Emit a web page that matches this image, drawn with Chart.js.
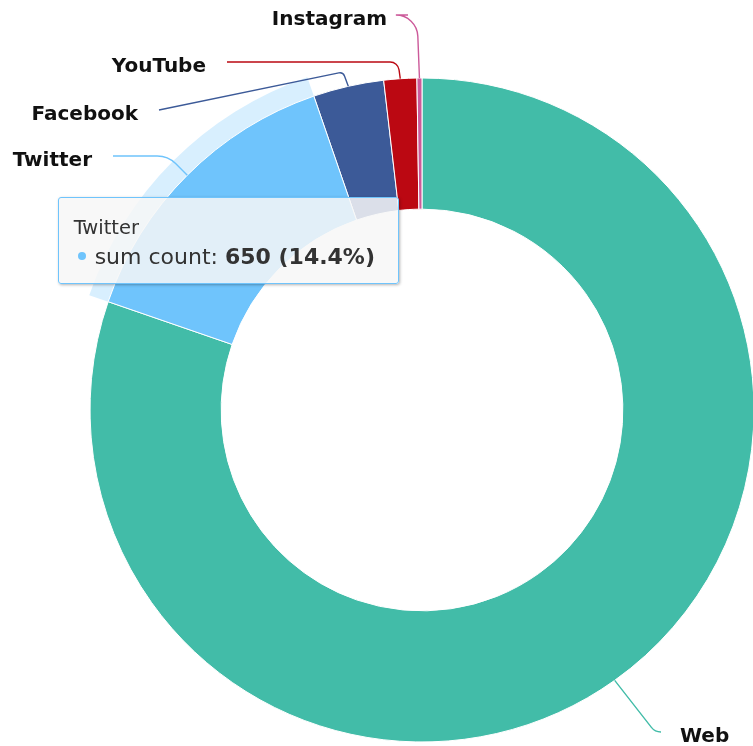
<!DOCTYPE html>
<html>
<head>
<meta charset="utf-8">
<script src="https://cdn.jsdelivr.net/npm/chart.js@4/dist/chart.umd.min.js"></script>
<style>
  html, body { margin: 0; padding: 0; background: #fff; overflow: hidden; }
  #wrap { position: relative; width: 770px; height: 746px; }
  #tip {
    position: absolute;
    pointer-events: none;
    background: rgba(247, 247, 247, 0.85);
    border: 1px solid #6fc4fc;
    border-radius: 3px;
    box-shadow: 1px 1px 3px rgba(0, 0, 0, 0.3);
    padding: 17px 23px 10px 15px;
    font-family: "DejaVu Sans", sans-serif;
    color: #333;
    white-space: nowrap;
    opacity: 0;
  }
  #tip .t { font-size: 19.5px; line-height: 26px; }
  #tip .b { font-size: 22px; line-height: 32px; }
  #tip .dot { display: inline-block; width: 8px; height: 8px; border-radius: 50%; margin: 0 9px 4px 4px; vertical-align: middle; }
</style>
</head>
<body>
<div id="wrap">
  <canvas id="donut"></canvas>
  <div id="tip"></div>
</div>
<script>
// data
const categories = ['Web', 'Twitter', 'Facebook', 'YouTube', 'Instagram'];
const sumCount = [3617, 650, 155, 72, 11];
const sliceColors = ['#42bca8', '#6fc4fc', '#3c5a98', '#bb0812', '#cc5a9a'];
const hoveredIndex = 1;

// label placement (end of connector + where it bends)
const connectors = [
    { bend: [655, 732], end: [661, 732], r: 12, align: 'left' },
    { bend: [168, 156], end: [113, 156], r: 26, align: 'right' },
    { bend: [343, 72], end: [159, 110], r: 5, align: 'right' },
    { bend: [398, 62], end: [227, 62], r: 9, align: 'right' },
    { bend: [417, 15], end: [408, 15], r: 22, align: 'right' }
];

const total = sumCount.reduce((a, b) => a + b, 0);

const halo = {
    id: 'halo',
    beforeDatasetsDraw(chart) {
        const active = chart.getActiveElements();
        if (!active.length) return;
        const arc = active[0].element;
        const ctx = chart.ctx;
        ctx.save();
        ctx.beginPath();
        ctx.arc(arc.x, arc.y, arc.outerRadius + 20, arc.startAngle, arc.endAngle);
        ctx.arc(arc.x, arc.y, arc.outerRadius, arc.endAngle, arc.startAngle, true);
        ctx.closePath();
        ctx.fillStyle = 'rgba(111,196,252,0.27)';
        ctx.fill();
        ctx.restore();
    }
};

const sliceLabels = {
    id: 'sliceLabels',
    afterDatasetsDraw(chart) {
        const ctx = chart.ctx;
        const arcs = chart.getDatasetMeta(0).data;
        arcs.forEach((arc, i) => {
            const c = connectors[i];
            const mid = (arc.startAngle + arc.endAngle) / 2;
            const x0 = arc.x + Math.cos(mid) * arc.outerRadius;
            const y0 = arc.y + Math.sin(mid) * arc.outerRadius;
            ctx.save();
            ctx.strokeStyle = sliceColors[i];
            ctx.lineWidth = 1.4;
            ctx.beginPath();
            ctx.moveTo(x0, y0);
            ctx.arcTo(c.bend[0], c.bend[1], c.end[0], c.end[1], c.r);
            ctx.lineTo(c.end[0], c.end[1]);
            ctx.stroke();

            ctx.font = 'bold 20px "DejaVu Sans", sans-serif';
            ctx.fillStyle = '#111';
            ctx.textBaseline = 'middle';
            ctx.textAlign = c.align;
            const tx = c.align === 'left' ? c.end[0] + 19 : c.end[0] - 21;
            ctx.fillText(categories[i], tx, c.end[1] + 5);
            ctx.restore();
        });
    }
};

function htmlTooltip({ chart, tooltip }) {
    const el = document.getElementById('tip');
    if (tooltip.opacity === 0 || !tooltip.dataPoints || !tooltip.dataPoints.length) {
        el.style.opacity = 0;
        return;
    }
    const dp = tooltip.dataPoints[0];
    const v = sumCount[dp.dataIndex];
    const pct = (v / total * 100).toFixed(1);
    el.innerHTML = '<div class="t">' + categories[dp.dataIndex] + '</div>' +
        '<div class="b"><span class="dot" style="background:' + sliceColors[dp.dataIndex] + '"></span>' +
        'sum count: <b>' + v + ' (' + pct + '%)</b></div>';
    el.style.left = (tooltip.caretX - 176) + 'px';
    el.style.top = (tooltip.caretY - 25) + 'px';
    el.style.opacity = 1;
}

const chart = new Chart(document.getElementById('donut'), {
    type: 'doughnut',
    data: {
        labels: categories,
        datasets: [{
            data: sumCount,
            backgroundColor: sliceColors,
            hoverBackgroundColor: sliceColors,
            borderColor: '#fff',
            hoverBorderColor: '#fff',
            borderWidth: 1,
            hoverOffset: 0
        }]
    },
    options: {
        responsive: true,
        maintainAspectRatio: false,
        animation: false,
        events: [],
        cutout: '60.5%',
        layout: {
            padding: { left: 89.5, right: 15.5, top: 77.5, bottom: 3.5 }
        },
        plugins: {
            legend: { display: false },
            tooltip: { enabled: false, external: htmlTooltip }
        }
    },
    plugins: [halo, sliceLabels]
});

const active = [{ datasetIndex: 0, index: hoveredIndex }];
chart.setActiveElements(active);
chart.tooltip.setActiveElements(active, { x: 0, y: 0 });
chart.update('none');
</script>
</body>
</html>
